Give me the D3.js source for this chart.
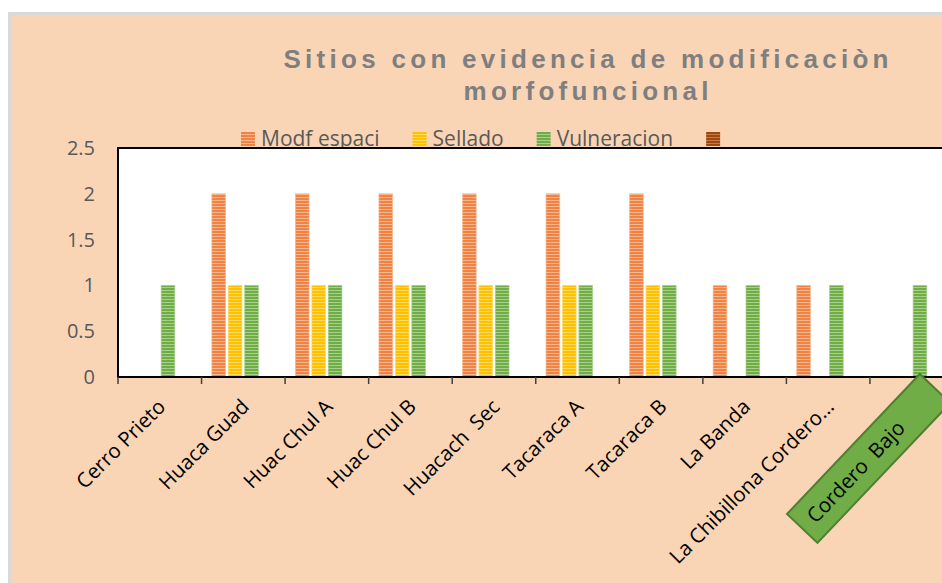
<!DOCTYPE html>
<html>
<head>
<meta charset="utf-8">
<script src="https://cdn.jsdelivr.net/npm/d3@7"></script>
<style>
  html, body { margin: 0; padding: 0; background: #ffffff; }
  svg { display: block; }
  text { white-space: pre; }
</style>
</head>
<body>
<svg id="chart" width="942" height="583"></svg>
<script>
// ---- data ----
const categories = ["Cerro Prieto", "Huaca Guad", "Huac Chul A", "Huac Chul B", "Huacach  Sec",
                    "Tacaraca A", "Tacaraca B", "La Banda", "La Chibillona Cordero…", "Cordero  Bajo"];
const seriesNames = ["Modf espaci", "Sellado", "Vulneracion", ""];
const modfEspaci  = [0, 2, 2, 2, 2, 2, 2, 1, 1, 0];
const sellado     = [0, 1, 1, 1, 1, 1, 1, 0, 0, 0];
const vulneracion = [1, 1, 1, 1, 1, 1, 1, 1, 1, 1];
const serie4      = [0, 0, 0, 0, 0, 0, 0, 0, 0, 0];
const yTicks = [0, 0.5, 1, 1.5, 2, 2.5];
const titleLines = ["Sitios con evidencia de modificaciòn", "morfofuncional"];

const seriesValues = [modfEspaci, sellado, vulneracion, serie4];
const seriesColors = [
  { base: "#EE8343", light: "#F6B790" },
  { base: "#FFC000", light: "#FFDA66" },
  { base: "#70AD47", light: "#A8D08D" },
  { base: "#9E480E", light: "#C47A45" }
];

const svg = d3.select("#chart");
const font = "'Open Sans', 'Noto Sans', sans-serif";

// ---- background ----
svg.append("rect").attr("x", 9.5).attr("y", 13.5).attr("width", 960).attr("height", 600)
  .attr("fill", "#FAD5B5").attr("stroke", "#D9D9D9").attr("stroke-width", 3);

// ---- patterns ----
const defs = svg.append("defs");
seriesColors.forEach((c, i) => {
  const p = defs.append("pattern").attr("id", "pat" + i)
    .attr("patternUnits", "userSpaceOnUse").attr("width", 6).attr("height", 3);
  p.append("rect").attr("width", 6).attr("height", 3).attr("fill", c.base);
  p.append("rect").attr("y", 2).attr("width", 6).attr("height", 1).attr("fill", c.light);
});

// ---- title ----
svg.append("text").attr("x", 586).attr("y", 68).attr("text-anchor", "middle")
  .attr("font-family", "'Liberation Sans', Arial, sans-serif").attr("font-weight", "bold")
  .attr("font-size", 26).attr("fill", "#7F7F7F")
  .attr("textLength", 605).attr("lengthAdjust", "spacing").text(titleLines[0]);
svg.append("text").attr("x", 586).attr("y", 100).attr("text-anchor", "middle")
  .attr("font-family", "'Liberation Sans', Arial, sans-serif").attr("font-weight", "bold")
  .attr("font-size", 26).attr("fill", "#7F7F7F")
  .attr("textLength", 245).attr("lengthAdjust", "spacing").text(titleLines[1]);

// ---- legend (drawn below plot area) ----
const legend = svg.append("g");
let lx = 241;
seriesNames.forEach((name, i) => {
  legend.append("rect").attr("x", lx).attr("y", 132).attr("width", 14).attr("height", 14)
    .attr("fill", "url(#pat" + i + ")");
  const t = legend.append("text").attr("x", lx + 20).attr("y", 146)
    .attr("font-family", font).attr("font-size", 21).attr("fill", "#595959").text(name);
  const w = name ? t.node().getComputedTextLength() : 0;
  lx += 20 + w + 33;
});

// ---- scales ----
const plotLeft = 118, plotTop = 148, plotBottom = 377, step = 83.55;
const x0 = d3.scaleBand().domain(categories)
  .range([plotLeft, plotLeft + step * categories.length]).padding(0);
const x1 = d3.scaleBand().domain(d3.range(seriesNames.length))
  .range([0, x0.bandwidth()]).paddingInner(0.166).paddingOuter(0.627);
const y = d3.scaleLinear().domain([0, 2.5]).range([plotBottom, plotTop]);

// ---- plot area ----
svg.append("rect").attr("x", plotLeft).attr("y", plotTop)
  .attr("width", 900).attr("height", plotBottom - plotTop)
  .attr("fill", "#ffffff").attr("stroke", "#000").attr("stroke-width", 2);

// ---- bars ----
const groups = svg.append("g").selectAll("g").data(categories).join("g")
  .attr("transform", d => `translate(${x0(d)},0)`);
groups.selectAll("rect")
  .data((d, ci) => seriesValues.map((vals, si) => ({ si, v: vals[ci] })).filter(e => e.v > 0))
  .join("rect")
  .attr("x", e => x1(e.si))
  .attr("y", e => y(e.v))
  .attr("width", x1.bandwidth())
  .attr("height", e => y(0) - y(e.v))
  .attr("fill", e => "url(#pat" + e.si + ")")
  .attr("stroke", e => seriesColors[e.si].light)
  .attr("stroke-width", 0.8)
  .attr("stroke-opacity", 0.8);

// ---- y axis ----
const yAxis = svg.append("g").attr("transform", `translate(${plotLeft},0)`)
  .call(d3.axisLeft(y).tickValues(yTicks).tickSize(0).tickPadding(23).tickFormat(d3.format("")));
yAxis.select(".domain").remove();
yAxis.selectAll("text").attr("font-family", font).attr("font-size", 20).attr("fill", "#595959");

// ---- x axis ----
const xAxisG = svg.append("g");
xAxisG.append("line").attr("x1", plotLeft - 1).attr("x2", 960)
  .attr("y1", plotBottom).attr("y2", plotBottom).attr("stroke", "#000").attr("stroke-width", 2);
const boundaries = categories.map(c => x0(c)).concat([x0.range()[1]]);
xAxisG.selectAll("line.tick").data(boundaries).join("line").attr("class", "tick")
  .attr("x1", d => d).attr("x2", d => d).attr("y1", plotBottom).attr("y2", plotBottom + 7)
  .attr("stroke", "#404040").attr("stroke-width", 1.5);

const lastIdx = categories.length - 1;
xAxisG.selectAll("text.lab").data(categories.slice(0, lastIdx)).join("text").attr("class", "lab")
  .attr("transform", d => `translate(${x0(d) + x0.bandwidth() / 2 + 7},408) rotate(-45)`)
  .attr("text-anchor", "end").attr("font-family", font).attr("font-size", 20.5).attr("fill", "#000")
  .text(d => d);

// ---- last category in a green text box ----
const box = svg.append("g").attr("transform", "translate(787,514) rotate(-46.5)");
box.append("rect").attr("width", 193).attr("height", 42)
  .attr("fill", "#70AD47").attr("stroke", "#507E32").attr("stroke-width", 2);
box.append("text").attr("x", 78).attr("y", 28).attr("text-anchor", "middle")
  .attr("font-family", font).attr("font-size", 20.5).attr("fill", "#000").text(categories[lastIdx]);
</script>
</body>
</html>
